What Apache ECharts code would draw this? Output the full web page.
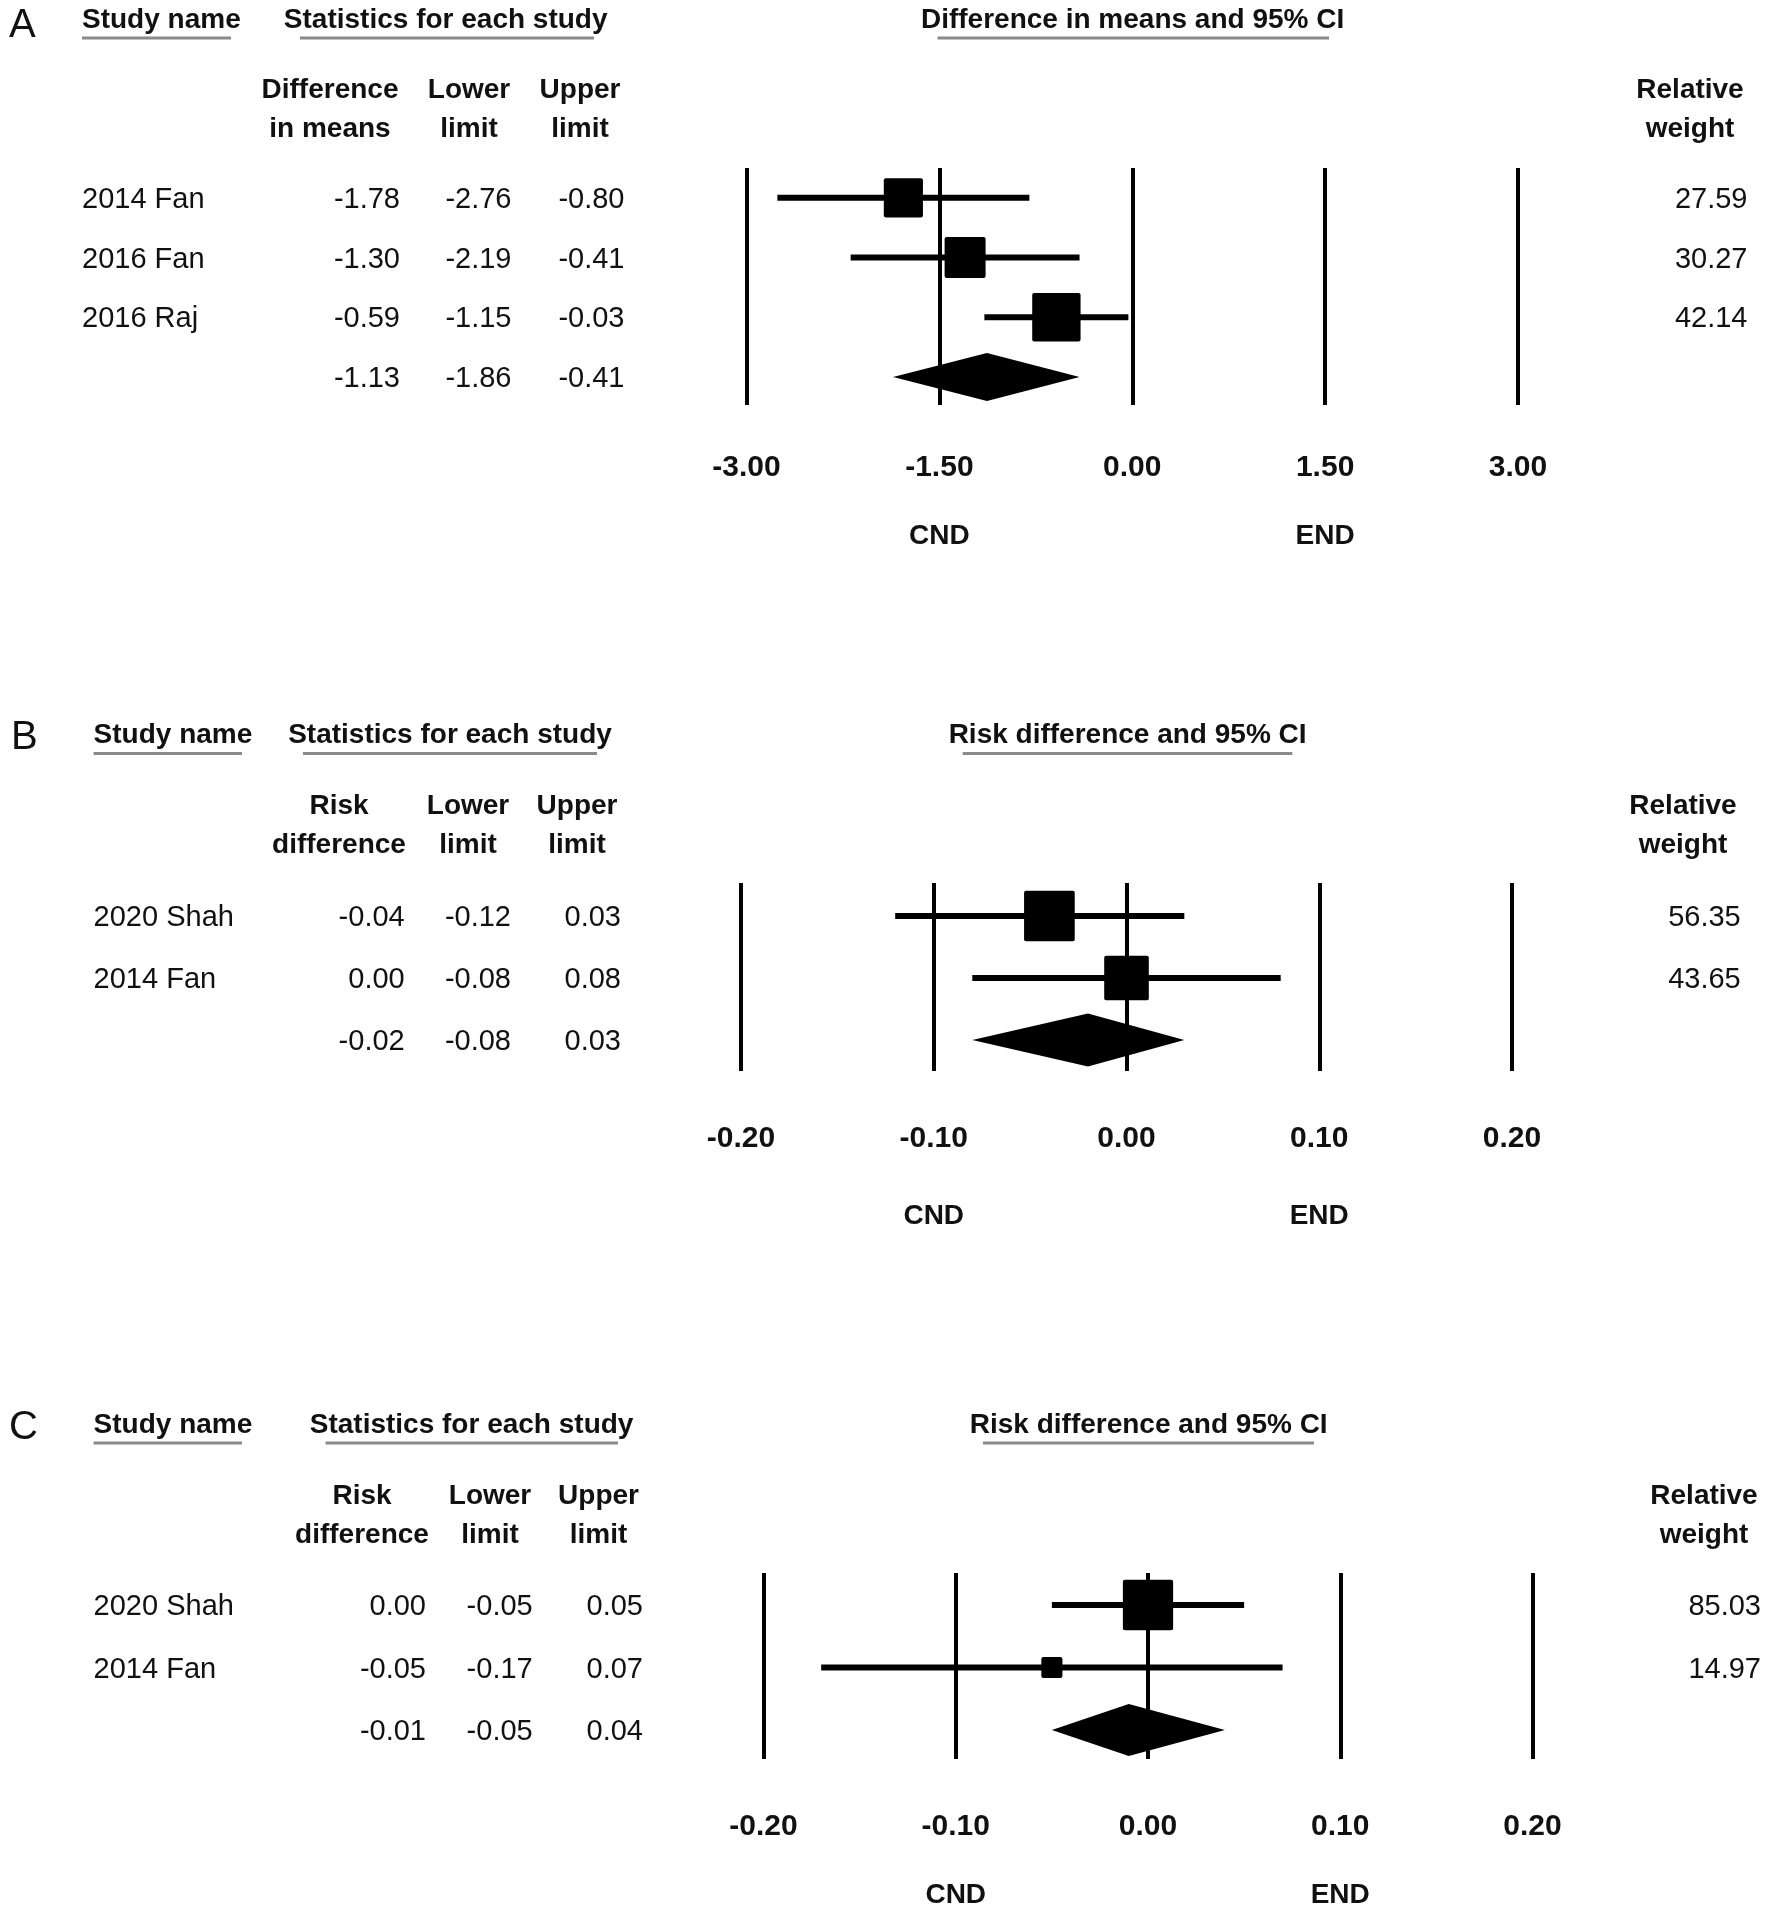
<!DOCTYPE html>
<html>
<head>
<meta charset="utf-8">
<script src="https://cdn.jsdelivr.net/npm/echarts@6/dist/echarts.min.js"></script>
<style>html,body{margin:0;padding:0;background:#fff}#chart{width:1770px;height:1919px}</style>
</head>
<body>
<div id="chart"></div>
<script>
// ---------------- Panel A data ----------------
const studiesA = ['2014 Fan', '2016 Fan', '2016 Raj'];
const effectA = [-1.78, -1.30, -0.59];
const lowerA = [-2.76, -2.19, -1.15];
const upperA = [-0.80, -0.41, -0.03];
const weightA = [27.59, 30.27, 42.14];
const summaryA = [-1.13, -1.86, -0.41];           // effect, lower, upper
const ticksA = [-3.00, -1.50, 0.00, 1.50, 3.00];
const effectHeaderA = ['Difference', 'in means'];
const ciTitleA = 'Difference in means and 95% CI';
const favourA = ['CND', 'END'];

// ---------------- Panel B data ----------------
const studiesB = ['2020 Shah', '2014 Fan'];
const effectB = [-0.04, 0.00];
const lowerB = [-0.12, -0.08];
const upperB = [0.03, 0.08];
const weightB = [56.35, 43.65];
const summaryB = [-0.02, -0.08, 0.03];
const ticksB = [-0.20, -0.10, 0.00, 0.10, 0.20];
const effectHeaderB = ['Risk', 'difference'];
const ciTitleB = 'Risk difference and 95% CI';
const favourB = ['CND', 'END'];

// ---------------- Panel C data ----------------
const studiesC = ['2020 Shah', '2014 Fan'];
const effectC = [0.00, -0.05];
const lowerC = [-0.05, -0.17];
const upperC = [0.05, 0.07];
const weightC = [85.03, 14.97];
const summaryC = [-0.01, -0.05, 0.04];
const ticksC = [-0.20, -0.10, 0.00, 0.10, 0.20];
const effectHeaderC = ['Risk', 'difference'];
const ciTitleC = 'Risk difference and 95% CI';
const favourC = ['CND', 'END'];

// shared header texts
const studyHeader = 'Study name';
const statsHeader = 'Statistics for each study';
const lowerHeader = ['Lower', 'limit'];
const upperHeader = ['Upper', 'limit'];
const weightHeader = ['Relative', 'weight'];

// ---------------- layout (positions / styles only) ----------------
const layoutA = {letter:'A', letterX:9, letterY:26, headY:20, lineY:38, colHeadY:[90.6,129.5],
  studyX:82, studyUL:[82,231], statX:445.7, statUL:[300,594], ciTitleX:1132.6, ciUL:[937.5,1329],
  colX:[400,511.5,624.5], colHeadX:[330,469,580], weightX:1747.5, weightHeadX:1690,
  gridLeft:746.5, gridRight:1518, gridTop:168, gridBottom:405, yMin:0.5, yMax:4.47,
  tickY:468, favourY:536, boxK:7.45, diamondH:48};
const layoutB = {letter:'B', letterX:11, letterY:737.5, headY:735.7, lineY:753.6, colHeadY:[806,845.7],
  studyX:93.6, studyUL:[93.6,242], statX:450, statUL:[303,597], ciTitleX:1127.6, ciUL:[962.7,1292.3],
  colX:[404.7,511,621], colHeadX:[339,468,577], weightX:1740.7, weightHeadX:1683,
  gridLeft:741, gridRight:1512, gridTop:883, gridBottom:1071, yMin:0.468, yMax:3.5,
  tickY:1138.6, favourY:1216, boxK:6.75, diamondH:53};
const layoutC = {letter:'C', letterX:9, letterY:1428, headY:1424.8, lineY:1443, colHeadY:[1496,1535.7],
  studyX:93.6, studyUL:[93.6,242], statX:471.6, statUL:[325.5,618], ciTitleX:1148.7, ciUL:[983,1314],
  colX:[426,532.7,643], colHeadX:[362,490,598.5], weightX:1761, weightHeadX:1704,
  gridLeft:763.5, gridRight:1532.5, gridTop:1573, gridBottom:1759, yMin:0.488, yMax:3.464,
  tickY:1827, favourY:1895.5, boxK:5.45, diamondH:52};

const panels = [
  {studies:studiesA, effect:effectA, lower:lowerA, upper:upperA, weight:weightA, summary:summaryA,
   ticks:ticksA, effectHeader:effectHeaderA, ciTitle:ciTitleA, favour:favourA, L:layoutA},
  {studies:studiesB, effect:effectB, lower:lowerB, upper:upperB, weight:weightB, summary:summaryB,
   ticks:ticksB, effectHeader:effectHeaderB, ciTitle:ciTitleB, favour:favourB, L:layoutB},
  {studies:studiesC, effect:effectC, lower:lowerC, upper:upperC, weight:weightC, summary:summaryC,
   ticks:ticksC, effectHeader:effectHeaderC, ciTitle:ciTitleC, favour:favourC, L:layoutC}
];

const FONT = '"Liberation Sans", Arial, sans-serif';
const INK = '#111';
const ROW_FS = 29;
const fmt = v => (Math.abs(v) < 1e-9 ? 0 : v).toFixed(2);

function txt(x, y, text, o) {
  const st = Object.assign({text: text, fill: INK, fontFamily: FONT, fontSize: 28, fontWeight: 'normal',
    align: 'left', verticalAlign: 'middle'}, o || {});
  st.textAlign = st.align; st.textVerticalAlign = st.verticalAlign;
  return {type: 'text', x: x, y: y, silent: true, style: st};
}
function uline(x1, x2, y) {
  return {type: 'line', silent: true, shape: {x1: x1, y1: y, x2: x2, y2: y}, style: {stroke: '#8a8a8a', lineWidth: 3}};
}

const grids = [], xAxes = [], yAxes = [], series = [], graphics = [];

panels.forEach((P, p) => {
  const L = P.L;
  const tMin = P.ticks[0], tMax = P.ticks[P.ticks.length - 1], tInt = P.ticks[1] - P.ticks[0];
  const favourAt = [P.ticks[1], P.ticks[3]];
  grids.push({left: L.gridLeft, width: L.gridRight - L.gridLeft, top: L.gridTop, height: L.gridBottom - L.gridTop,
    containLabel: false, outerBoundsMode: 'none'});
  // main value axis (tick labels + vertical reference lines)
  xAxes.push({type: 'value', gridIndex: p, position: 'bottom', min: tMin, max: tMax, interval: tInt,
    axisLine: {show: false}, axisTick: {show: false},
    splitLine: {show: true, showMinLine: true, showMaxLine: true, lineStyle: {color: '#000', width: 4}},
    axisLabel: {show: true, margin: L.tickY - L.gridBottom, verticalAlign: 'middle', color: INK,
      fontFamily: FONT, fontSize: 30, fontWeight: 'bold', formatter: v => fmt(v),
      showMinLabel: true, showMaxLabel: true, hideOverlap: false}});
  // favour labels axis
  xAxes.push({type: 'value', gridIndex: p, position: 'bottom', offset: 0, min: tMin, max: tMax, interval: tInt,
    axisLine: {show: false}, axisTick: {show: false}, splitLine: {show: false},
    axisLabel: {show: true, margin: L.favourY - L.gridBottom, verticalAlign: 'middle', color: INK,
      fontFamily: FONT, fontSize: 28, fontWeight: 'bold', showMinLabel: true, showMaxLabel: true,
      formatter: v => {
        for (let k = 0; k < favourAt.length; k++) if (Math.abs(v - favourAt[k]) < 1e-9) return P.favour[k];
        return '';
      }}});
  yAxes.push({type: 'value', gridIndex: p, inverse: true, min: L.yMin, max: L.yMax, show: false});

  const n = P.studies.length;
  // study CI lines + weighted boxes
  series.push({type: 'custom', name: 'studies' + p, xAxisIndex: 2 * p, yAxisIndex: p, silent: true, clip: false,
    encode: {x: [0, 1, 2], y: 3},
    data: P.studies.map((s, i) => [P.effect[i], P.lower[i], P.upper[i], i + 1, P.weight[i]]),
    renderItem: (params, api) => {
      const row = api.value(3);
      const pLo = api.coord([api.value(1), row]);
      const pHi = api.coord([api.value(2), row]);
      const pE = api.coord([api.value(0), row]);
      const s = L.boxK * Math.sqrt(api.value(4));
      return {type: 'group', children: [
        {type: 'line', shape: {x1: pLo[0], y1: pLo[1], x2: pHi[0], y2: pHi[1]}, style: {stroke: '#000', lineWidth: 6}},
        {type: 'rect', shape: {x: pE[0] - s / 2, y: pE[1] - s / 2, width: s, height: s, r: 2}, style: {fill: '#000'}}
      ]};
    }});
  // summary diamond
  series.push({type: 'custom', name: 'summary' + p, xAxisIndex: 2 * p, yAxisIndex: p, silent: true, clip: false,
    encode: {x: [0, 1, 2], y: 3},
    data: [[P.summary[0], P.summary[1], P.summary[2], n + 1]],
    renderItem: (params, api) => {
      const row = api.value(3);
      const pLo = api.coord([api.value(1), row]);
      const pHi = api.coord([api.value(2), row]);
      const pE = api.coord([api.value(0), row]);
      const h = L.diamondH / 2;
      return {type: 'polygon', shape: {points: [[pLo[0], pLo[1]], [pE[0], pE[1] - h], [pHi[0], pHi[1]], [pE[0], pE[1] + h]]},
        style: {fill: '#000'}};
    }});
  // table text rows (aligned with the plot rows through the y axis)
  const tableRows = P.studies.map((s, i) => [tMin, i + 1]).concat([[tMin, n + 1]]);
  series.push({type: 'custom', name: 'table' + p, xAxisIndex: 2 * p, yAxisIndex: p, silent: true, clip: false,
    encode: {x: 0, y: 1},
    data: tableRows,
    renderItem: (params, api) => {
      const i = params.dataIndex;
      const y = api.coord([api.value(0), api.value(1)])[1] + 2;
      const isSum = i >= n;
      const vals = isSum ? P.summary : [P.effect[i], P.lower[i], P.upper[i]];
      const kids = [];
      if (!isSum) kids.push(txt(L.studyX, y, P.studies[i], {fontSize: ROW_FS}));
      vals.forEach((v, k) => kids.push(txt(L.colX[k], y, fmt(v), {align: 'right', fontSize: ROW_FS})));
      if (!isSum) kids.push(txt(L.weightX, y, fmt(P.weight[i]), {align: 'right', fontSize: ROW_FS}));
      return {type: 'group', children: kids};
    }});

  // headers
  graphics.push(txt(L.letterX, L.letterY, L.letter, {fontSize: 40}));
  graphics.push(txt(L.studyX, L.headY, studyHeader, {fontWeight: 'bold'}));
  graphics.push(uline(L.studyUL[0], L.studyUL[1], L.lineY));
  graphics.push(txt(L.statX, L.headY, statsHeader, {fontWeight: 'bold', align: 'center'}));
  graphics.push(uline(L.statUL[0], L.statUL[1], L.lineY));
  graphics.push(txt(L.ciTitleX, L.headY, P.ciTitle, {fontWeight: 'bold', align: 'center'}));
  graphics.push(uline(L.ciUL[0], L.ciUL[1], L.lineY));
  [P.effectHeader, lowerHeader, upperHeader].forEach((hdr, k) => {
    hdr.forEach((t, j) => graphics.push(txt(L.colHeadX[k], L.colHeadY[j], t, {fontWeight: 'bold', align: 'center'})));
  });
  weightHeader.forEach((t, j) => graphics.push(txt(L.weightHeadX, L.colHeadY[j], t, {fontWeight: 'bold', align: 'center'})));
});

const chart = echarts.init(document.getElementById('chart'), null, {renderer: 'canvas'});
chart.setOption({
  backgroundColor: '#fff',
  animation: false,
  textStyle: {fontFamily: FONT},
  grid: grids,
  xAxis: xAxes,
  yAxis: yAxes,
  series: series,
  graphic: {elements: graphics}
});
</script>
</body>
</html>
